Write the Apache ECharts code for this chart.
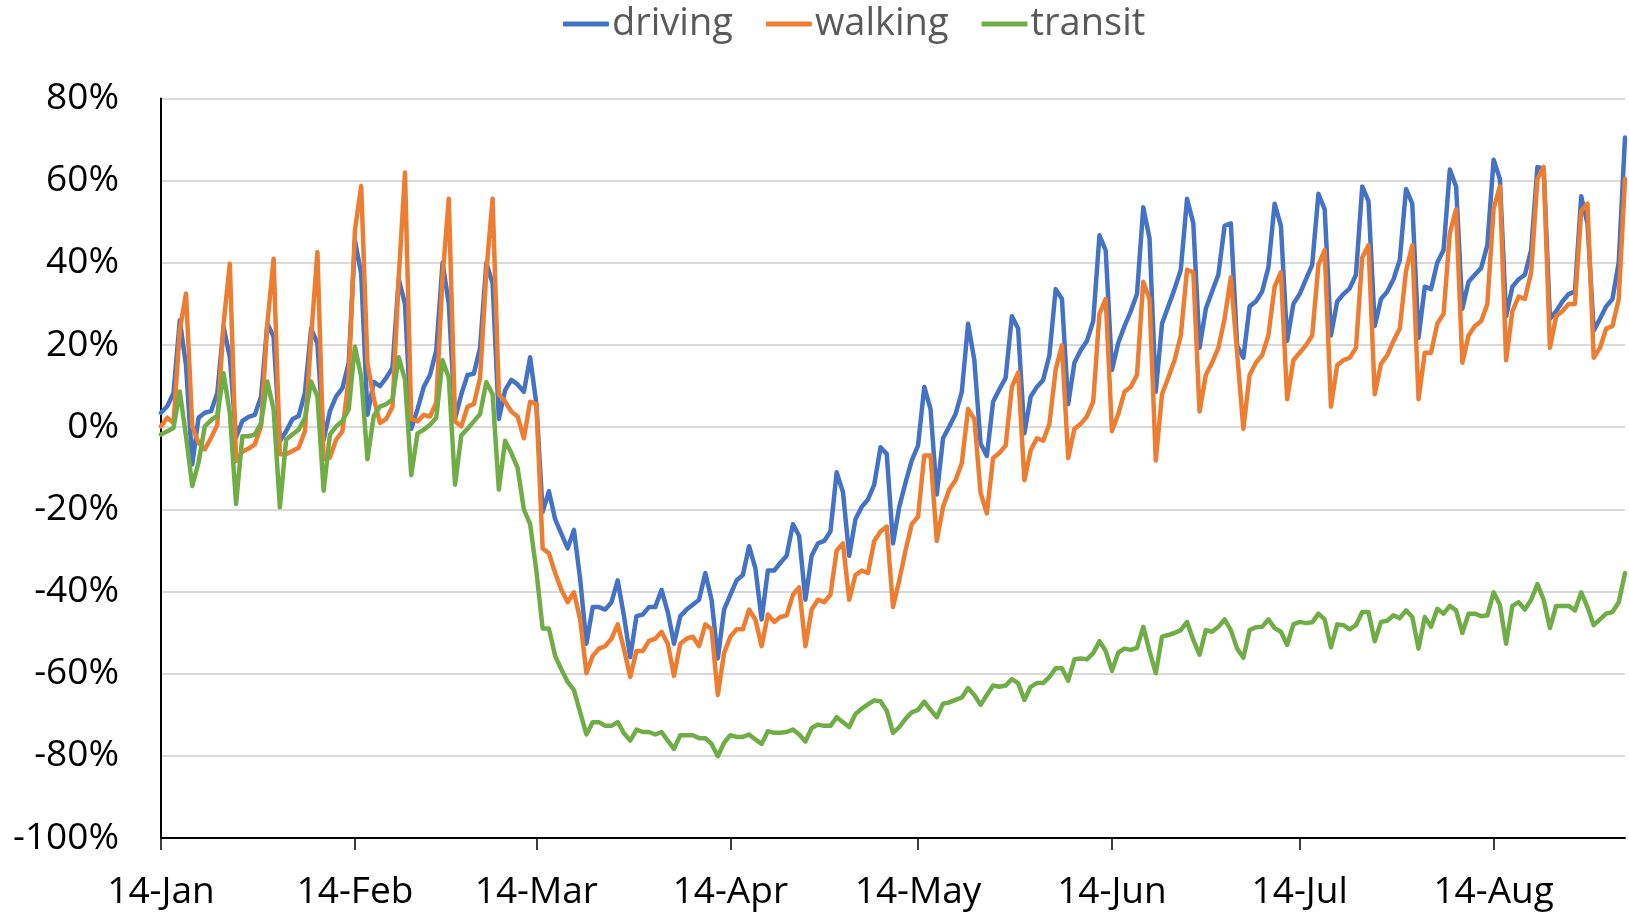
<!DOCTYPE html>
<html>
<head>
<meta charset="utf-8">
<title>driving / walking / transit</title>
<script src="https://cdn.jsdelivr.net/npm/echarts@6/dist/echarts.min.js"></script>
<style>
    html, body { margin: 0; padding: 0; background: #fff; }
    #chart { width: 1629px; height: 917px; }
</style>
</head>
<body>
<div id="chart"></div>
<script>
// 起始日期，每天一个点
const startDate = '2020-01-14'
const monthNames = ['Jan', 'Feb', 'Mar', 'Apr', 'May', 'Jun', 'Jul', 'Aug', 'Sep', 'Oct', 'Nov', 'Dec']
// 横轴上显示的刻度文字
const tickLabels = ['14-Jan', '14-Feb', '14-Mar', '14-Apr', '14-May', '14-Jun', '14-Jul', '14-Aug']
const seriesNames = ['driving', 'walking', 'transit']

// 每行一周（周二开始），单位 %
const driving = [
    3.5, 5.1, 8.3, 26, 15, -9, 2.3,
    3.5, 3.9, 8.3, 24.4, 17, -2.5, 1.5,
    2.5, 3, 7.5, 25.2, 22, -3.4, -1,
    1.9, 2.7, 8.3, 24, 20.4, -3, 3.9,
    7.5, 9.5, 15.6, 45.4, 37.3, 3, 11,
    10, 12, 14.5, 36, 30, -0.4, 4.4,
    9.8, 12.7, 18.7, 40, 30, 2, 8,
    12.7, 13, 19.3, 40, 35, 2, 9,
    11.5, 10.4, 8.6, 17, 5.6, -20.6, -15.6,
    -22.4, -26, -29.5, -25, -37, -52.7, -43.8,
    -43.8, -44.4, -42.6, -37.3, -46, -56, -46,
    -45.6, -43.8, -43.8, -39.6, -45, -52.7, -46,
    -44.4, -43.2, -42, -35.5, -42, -56.3, -44.4,
    -40.8, -37.3, -36, -29, -34.3, -46.8, -34.9,
    -34.9, -33, -31.3, -23.6, -26.5, -42, -31.3,
    -28.3, -27.7, -25.4, -11, -15.8, -31.3, -22.4,
    -19.4, -17.6, -14, -4.9, -6.5, -28.3, -19.4,
    -13.5, -8.1, -4.5, 9.8, 4.4, -16.4, -2.7,
    0.2, 3.2, 8.6, 25.2, 16.3, -4, -7,
    6.2, 9.2, 12, 27, 24, -1.5, 7.4,
    9.8, 11.5, 17.5, 33.6, 31.2, 5.6, 15.7,
    18.7, 21, 25.8, 46.7, 43, 13.9, 20.5,
    24.6, 28.2, 32.4, 53.5, 46, 8.6, 25.2,
    29.4, 33.6, 38.3, 55.6, 49.6, 19.3, 28.8,
    33, 37.1, 49, 49.6, 19.9, 16.9, 29.4,
    30.6, 33, 38.9, 54.4, 49, 21, 30,
    32.4, 36, 39.5, 56.8, 53, 22.3, 30.6,
    32.4, 33.8, 37.1, 58.6, 55, 24.6, 31.2,
    33, 36, 40.7, 58, 54.4, 21.7, 34.2,
    33.6, 40.1, 43.1, 62.7, 58.6, 28.8, 35.4,
    37.1, 38.7, 44.3, 65.1, 60.4, 27, 34.2,
    36, 37.1, 43.1, 63.3, 63, 26.4, 28.2,
    30.6, 32.4, 33, 56.2, 49.6, 23.5, 26.4,
    29.4, 31.2, 40.1, 70.5
]
const walking = [
    0.2, 2.3, 1, 23.6, 32.5, 0.2, -3.8,
    -5.4, -2.6, 0.6, 25.2, 39.8, -8.2, -6,
    -5.2, -4.2, 0.2, 25.2, 41, -6.6, -6.6,
    -5.8, -5, -1, 22, 42.6, -7.8, -7.4,
    -3, -1, 12, 48, 58.7, 15.6, 7,
    1, 2, 5, 36.5, 62, 2, 1.4,
    3, 2.6, 6, 36.5, 55.6, 1.4, 0.2,
    5, 5.6, 12, 37.7, 55.6, 8, 6.2,
    3.8, 2.6, -2.7, 6.2, 5.6, -29.5, -30.7,
    -35.5, -39.6, -42.6, -40.2, -46.8, -59.9, -55.7,
    -53.9, -53.3, -51.5, -48, -54, -60.8, -54.5,
    -54.5, -52, -51.5, -49.8, -52.7, -60.5, -52.7,
    -51.5, -51, -53.3, -48, -49.2, -65.2, -55,
    -51, -49.2, -49.2, -44.4, -46.8, -53.3, -45.6,
    -47.4, -46.2, -45.8, -40.8, -39, -53.3, -44.4,
    -42, -42.6, -40.8, -30, -28.3, -42, -36,
    -34.9, -35.5, -27.7, -25.4, -24.2, -43.8, -37.3,
    -30, -23.6, -21.8, -6.9, -6.9, -27.7, -19.4,
    -15.2, -12.9, -8.7, 4.4, 2, -16, -21,
    -7.5, -6.3, -4.5, 9.8, 13.3, -12.9, -5.7,
    -2.7, -3.3, 0.8, 14, 19.9, -7.5, -0.4,
    0.8, 2.6, 6.2, 27.6, 31.2, -1, 3.2,
    8.6, 9.8, 12.7, 35.4, 31.2, -8.1, 8,
    12.1, 16.3, 22.3, 38.3, 37.7, 3.8, 12.7,
    15.7, 19.3, 26.4, 36.5, 18.1, -0.4, 12.7,
    15.7, 17.5, 22.3, 34.2, 37.7, 6.8, 16.3,
    18.1, 19.9, 22.3, 39.5, 43.1, 5, 15.1,
    16.3, 16.9, 19.3, 41.3, 44.3, 8, 15.4,
    17.5, 21, 24, 38, 44.3, 6.8, 18.1,
    18.1, 25.2, 27.6, 47.2, 53, 15.7, 22.3,
    24.6, 25.8, 30, 53.2, 58.6, 16.3, 28.2,
    31.8, 31.2, 37.7, 60.4, 63.3, 19.3, 27,
    28.2, 30, 30, 52.6, 54.4, 16.9, 19.3,
    24, 24.6, 31.2, 60.4
]
const transit = [
    -1.8, -1, -0.2, 8.7, -2.2, -14.3, -8.6,
    0.2, 1.7, 2.8, 13.1, 3.5, -18.7, -2.2,
    -2.2, -1.8, 1, 11.1, 4.3, -19.5, -3,
    -1.8, -0.6, 2.3, 11.1, 7.5, -15.5, -1.8,
    0.2, 1.5, 4.3, 19.6, 12.3, -7.8, 2.7,
    5, 5.6, 6.8, 17, 11.5, -11.7, -1.5,
    -0.6, 0.6, 2.3, 16.3, 12, -14, -2,
    -0.4, 1.4, 3.2, 11, 8, -15.2, -3.3,
    -6.3, -9.9, -20, -23.6, -35, -49, -49,
    -55.7, -59, -62, -64, -69.4, -74.8, -71.8,
    -71.8, -72.7, -72.7, -71.8, -74.5, -76.3, -73.6,
    -74.2, -74.2, -74.8, -74.2, -76.3, -78.3, -75,
    -75, -75, -75.7, -75.7, -77.1, -80.1, -76.8,
    -75, -75.4, -75.4, -74.8, -76, -77.1, -74,
    -74.4, -74.4, -74.2, -73.6, -74.8, -76.5, -73.2,
    -72.4, -72.7, -72.7, -70.6, -71.8, -73, -69.8,
    -68.5, -67.5, -66.5, -66.7, -69, -74.4, -73,
    -71, -69.4, -68.8, -66.8, -68.8, -70.6, -67.3,
    -67, -66.4, -65.8, -63.5, -65.2, -67.6, -65.2,
    -62.9, -63.2, -62.9, -61.3, -62.3, -66.4, -63.2,
    -62.3, -62.3, -60.8, -58.7, -58.7, -61.7, -56.5,
    -56.3, -56.5, -55, -52.1, -54.5, -59.3, -54.9,
    -53.9, -54.2, -53.7, -48.6, -54.5, -59.9, -51,
    -50.6, -50.1, -49.4, -47.4, -51.8, -55.4, -49.4,
    -49.8, -48.6, -46.8, -49.4, -53.9, -56.1, -49.4,
    -48.7, -48.6, -46.8, -48.9, -49.8, -53, -48,
    -47.4, -47.7, -47.5, -45.4, -46.8, -53.6, -48,
    -48.2, -49.2, -48.2, -45, -45, -52.1, -47.4,
    -47.1, -45.8, -46.5, -44.6, -46.2, -53.9, -46.2,
    -48.6, -44.2, -45.4, -43.5, -44.6, -50.1, -45.4,
    -45.4, -46, -45.8, -40.2, -43.2, -52.7, -43.5,
    -42.6, -44.4, -42, -38.2, -42, -48.9, -43.5,
    -43.5, -43.5, -44.6, -40.2, -43.8, -48.2, -46.8,
    -45.4, -45, -42.6, -35.5
]

const seriesColors = ['#4472C4', '#ED7D31', '#70AD47']
const fontName = "'Open Sans', 'Noto Sans', sans-serif"

// 生成每天的横轴文字 (14-Jan 这种格式)
function buildDays (count) {
    const days = []
    const t0 = new Date(startDate + 'T00:00:00Z').getTime()
    for (let i = 0; i < count; i++) {
        const d = new Date(t0 + i * 86400000)
        days.push(d.getUTCDate() + '-' + monthNames[d.getUTCMonth()])
    }
    return days
}

// 只在每月14号显示刻度和文字
function isTick (index, value) {
    return tickLabels.indexOf(value) !== -1
}

function initChart () {
    const chartInstance = echarts.init(document.getElementById('chart'))
    const days = buildDays(driving.length)
    const allData = [driving, walking, transit]
    const option = {
        animation: false,
        color: seriesColors,
        textStyle: {
            fontFamily: fontName
        },
        legend: {
            data: seriesNames,
            icon: 'roundRect',
            left: 558,
            top: 0,
            itemWidth: 46,
            itemHeight: 5,
            itemGap: 33,
            textStyle: {
                fontSize: 38,
                color: '#595959',
                fontFamily: fontName,
                padding: [0, 0, 0, -2]
            }
        },
        grid: {
            left: 161,
            right: 4,
            top: 98.5,
            bottom: 79
        },
        xAxis: {
            type: 'category',
            boundaryGap: false,
            data: days,
            axisLine: {
                onZero: false,
                lineStyle: { color: '#000', width: 2 }
            },
            axisTick: {
                show: true,
                interval: isTick,
                length: 12,
                lineStyle: { color: '#000', width: 1.5 }
            },
            axisLabel: {
                interval: isTick,
                fontSize: 37,
                color: '#000',
                margin: 36,
                fontFamily: fontName
            },
            splitLine: { show: false }
        },
        yAxis: {
            type: 'value',
            min: -100,
            max: 80,
            interval: 20,
            axisLine: {
                show: true,
                lineStyle: { color: '#000', width: 2 }
            },
            axisTick: { show: false },
            axisLabel: {
                formatter: '{value}%',
                fontSize: 37,
                color: '#000',
                margin: 42,
                fontFamily: fontName
            },
            splitLine: {
                lineStyle: { color: '#D9D9D9', width: 2 }
            }
        },
        series: seriesNames.map((name, i) => {
            return {
                name: name,
                type: 'line',
                data: allData[i],
                symbol: 'none',
                smooth: false,
                lineStyle: {
                    width: 4.5,
                    color: seriesColors[i],
                    cap: 'round',
                    join: 'round'
                },
                itemStyle: { color: seriesColors[i] }
            }
        })
    }
    chartInstance.setOption(option)
}

initChart()
</script>
</body>
</html>
